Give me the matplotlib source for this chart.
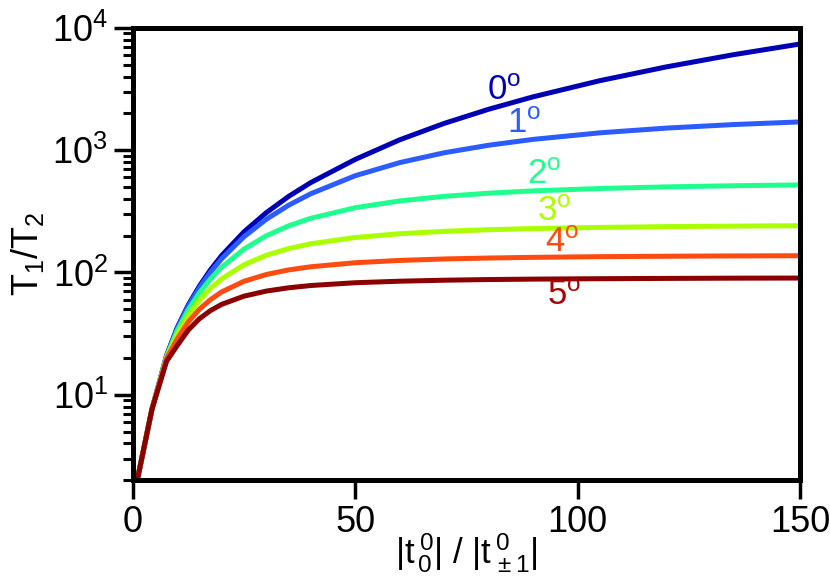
import matplotlib
matplotlib.use("Agg")
import matplotlib.pyplot as plt
from matplotlib.ticker import LogLocator, NullFormatter, FixedLocator

plt.rcParams['font.family'] = ['Liberation Sans', 'DejaVu Sans']
plt.rcParams['mathtext.fontset'] = 'custom'
plt.rcParams['mathtext.rm'] = 'Liberation Sans'
plt.rcParams['mathtext.it'] = 'Liberation Sans'
plt.rcParams['mathtext.bf'] = 'Liberation Sans:bold'

# ratio |t0|/|t+-1| and the T1/T2 values, one list per angle
ratio = [1, 4.3, 7.6, 10, 12.5, 15, 17.5, 20, 25, 30, 35, 40, 50, 60, 70, 80, 90, 105, 120, 135, 150]
t_0deg = [2.0, 7.6, 21.0, 35.5, 54.5, 77.6, 105.6, 137.9, 215, 308, 418, 543, 840, 1215, 1655,
          2160, 2730, 3700, 4800, 6030, 7380]
t_1deg = [2.0, 7.6, 20.8, 35.0, 53.2, 75.2, 100.8, 129.8, 196, 272, 354, 440, 618, 791, 952,
          1097, 1225, 1386, 1515, 1619, 1702]
t_2deg = [2.0, 7.6, 20.5, 33.5, 49.8, 68.4, 88.8, 110.6, 155.4, 199.4, 240.3, 277.2, 338.4, 384.5,
          419, 444.8, 464.4, 485.9, 500.9, 511.7, 519.7]
t_3deg = [2.0, 7.6, 20.2, 31.4, 45.0, 59.5, 74.2, 88.8, 115.5, 138.1, 156.6, 171.5, 193.1, 207.3,
          216.9, 223.6, 228.5, 233.5, 236.9, 239.3, 241.1]
t_4deg = [2.0, 7.6, 19.8, 28.7, 39.5, 50.2, 60.1, 69.4, 84.7, 96.2, 104.9, 111.3, 120.1, 125.4,
          128.9, 131.2, 132.9, 134.6, 135.7, 136.5, 137.0]
t_5deg = [2.0, 7.6, 18.8, 25.3, 33.9, 41.9, 48.9, 54.9, 64.0, 70.4, 74.9, 78.2, 82.4, 84.8,
          86.4, 87.5, 88.2, 88.9, 89.4, 89.8, 90.0]

curves = [t_0deg, t_1deg, t_2deg, t_3deg, t_4deg, t_5deg]
colors = ['#0000b4', '#2b5cff', '#1fff8f', '#aaff00', '#ff4a10', '#8b0000']
label_colors = ['#0000b4', '#2b5cff', '#1fff8f', '#aaff00', '#ff4a10', '#a00808']
names = ['0', '1', '2', '3', '4', '5']
label_x = [83.5, 88.0, 92.4, 94.8, 96.6, 97.0]
label_y = [3100, 1650, 630, 315, 176, 64.5]

fig = plt.figure(figsize=(8.3, 5.8), dpi=100)
ax = fig.add_axes([0.160, 0.172, 0.804, 0.780])

for vals, c in zip(curves, colors):
    ax.plot(ratio, vals, color=c, lw=3.6, solid_joinstyle='round')

for n, lx, ly, c in zip(names, label_x, label_y, label_colors):
    ax.text(lx, ly, n + r'$^{\mathrm{o}}$', color=c, fontsize=25,
            ha='center', va='center')

ax.set_yscale('log')
ax.set_xlim(0, 150)
ax.set_ylim(2, 1e4)
ax.xaxis.set_major_locator(FixedLocator([0, 50, 100, 150]))
ax.yaxis.set_major_locator(LogLocator(base=10, numticks=10))
ax.yaxis.set_minor_locator(LogLocator(base=10, subs=range(2, 10), numticks=20))
ax.yaxis.set_minor_formatter(NullFormatter())

for s in ax.spines.values():
    s.set_linewidth(3.6)
ax.tick_params(axis='both', which='major', direction='out', length=14, width=2.5,
               labelsize=26, pad=4, top=False, right=False)
ax.tick_params(axis='y', which='minor', direction='out', length=7, width=2.2, right=False)

ax.set_xlabel(r'$|t^{\,0}_{\,0}|\ /\ |t^{\,0}_{\,\pm1}|$', fontsize=25, labelpad=-7)
ax.set_ylabel(r'$T_1/T_2$', fontsize=26, labelpad=4)

fig.savefig('out.png', dpi=100)
